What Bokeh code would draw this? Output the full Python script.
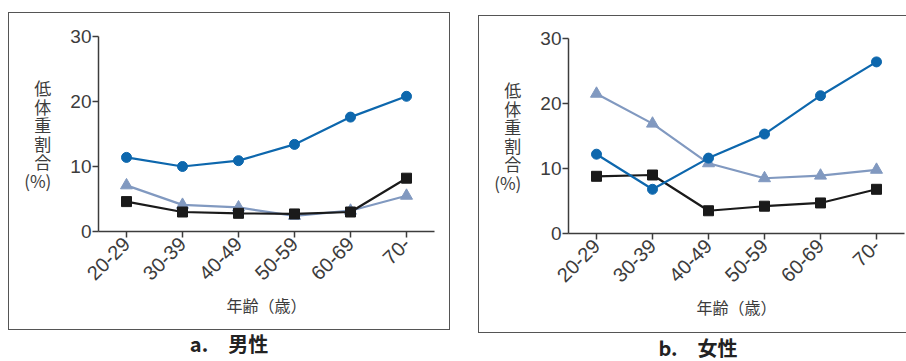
import math
from bokeh.plotting import figure
from bokeh.layouts import row, column
from bokeh.models import FactorRange, Range1d, FixedTicker, Div
from bokeh.embed import file_html
from bokeh.resources import INLINE

ages = ["20-29", "30-39", "40-49", "50-59", "60-69", "70-"]
y_ticks = [0, 10, 20, 30]

# a. 男性
men_circle = [11.4, 10.0, 10.9, 13.4, 17.6, 20.8]
men_triangle = [7.1, 4.1, 3.7, 2.4, 3.2, 5.5]
men_square = [4.6, 3.0, 2.8, 2.7, 3.0, 8.2]

# b. 女性
women_circle = [12.2, 6.8, 11.6, 15.3, 21.2, 26.4]
women_triangle = [21.5, 16.9, 10.8, 8.5, 8.9, 9.8]
women_square = [8.8, 9.0, 3.5, 4.2, 4.7, 6.8]

BLUE = "#0d67ad"
LIGHT = "#8199c0"
BLACK = "#1a1a1a"
GRAY = "#3c3c3c"
JP = "Noto Sans CJK JP"


def panel(circle, tri, square, w, h, bl, br, bt, bb, margin):
    p = figure(x_range=FactorRange(*ages, range_padding=0), y_range=Range1d(0, 30),
               width=w, height=h, output_backend="svg", toolbar_location=None,
               min_border_left=bl, min_border_right=br, min_border_top=bt, min_border_bottom=bb,
               margin=margin, styles={"outline": "1.5px solid #555555"})
    p.outline_line_color = None
    p.grid.grid_line_color = None

    p.line(ages, tri, color=LIGHT, line_width=2.2)
    p.scatter(ages, tri, marker="triangle", size=12, color=LIGHT)
    p.line(ages, square, color=BLACK, line_width=2.2)
    p.scatter(ages, square, marker="square", size=10, color=BLACK)
    p.line(ages, circle, color=BLUE, line_width=2.2)
    p.scatter(ages, circle, marker="circle", size=10, color=BLUE)

    for ax in (p.xaxis[0], p.yaxis[0]):
        ax.axis_line_color = GRAY
        ax.axis_line_width = 1.5
        ax.major_tick_line_color = GRAY
        ax.major_tick_line_width = 1.5
        ax.major_tick_in = 0
        ax.major_tick_out = 6
        ax.minor_tick_line_color = None
        ax.major_label_text_font = "Liberation Sans"
        ax.major_label_text_font_size = "19px"
        ax.major_label_text_color = GRAY
    p.xaxis.major_label_text_font_size = "20px"
    p.yaxis.ticker = FixedTicker(ticks=y_ticks)
    p.yaxis.major_label_standoff = 1
    p.xaxis.major_label_orientation = math.pi / 4
    p.xaxis.major_label_standoff = 3
    p.xaxis.axis_label = "年齢（歳）"
    p.xaxis.axis_label_text_font = JP
    p.xaxis.axis_label_text_font_style = "normal"
    p.xaxis.axis_label_text_font_size = "16px"
    p.xaxis.axis_label_text_color = GRAY
    p.xaxis.axis_label_standoff = 3

    p.yaxis.axis_label = "低\n体\n重\n割\n合\n(%)"
    p.yaxis.axis_label_orientation = "horizontal"
    p.yaxis.axis_label_text_font = JP
    p.yaxis.axis_label_text_font_style = "normal"
    p.yaxis.axis_label_text_font_size = "17px"
    p.yaxis.axis_label_text_color = GRAY
    p.yaxis.axis_label_text_line_height = 0.74
    p.yaxis.axis_label_standoff = 16
    return p


def caption(text, width, margin):
    return Div(text=text, width=width, height=26, margin=margin,
               styles={"text-align": "center", "font-family": JP, "font-size": "20px",
                       "font-weight": "bold", "color": "#222222", "line-height": "24px"})


pa = panel(men_circle, men_triangle, men_square, 440, 316, 89, 15, 23, 98, (13, 4, 0, 9))
pb = panel(women_circle, women_triangle, women_square, 427, 316, 89, 2, 22, 99, (16, 0, 0, 26))

ca = caption("a.\u3000男性", 440, (3, 4, 0, 9))
cb = caption("b.\u3000女性", 400, (4, 0, 0, 45))

layout = row(column(pa, ca, spacing=0), column(pb, cb, spacing=0), spacing=0)
open("out.html", "w").write(file_html(layout, INLINE))
